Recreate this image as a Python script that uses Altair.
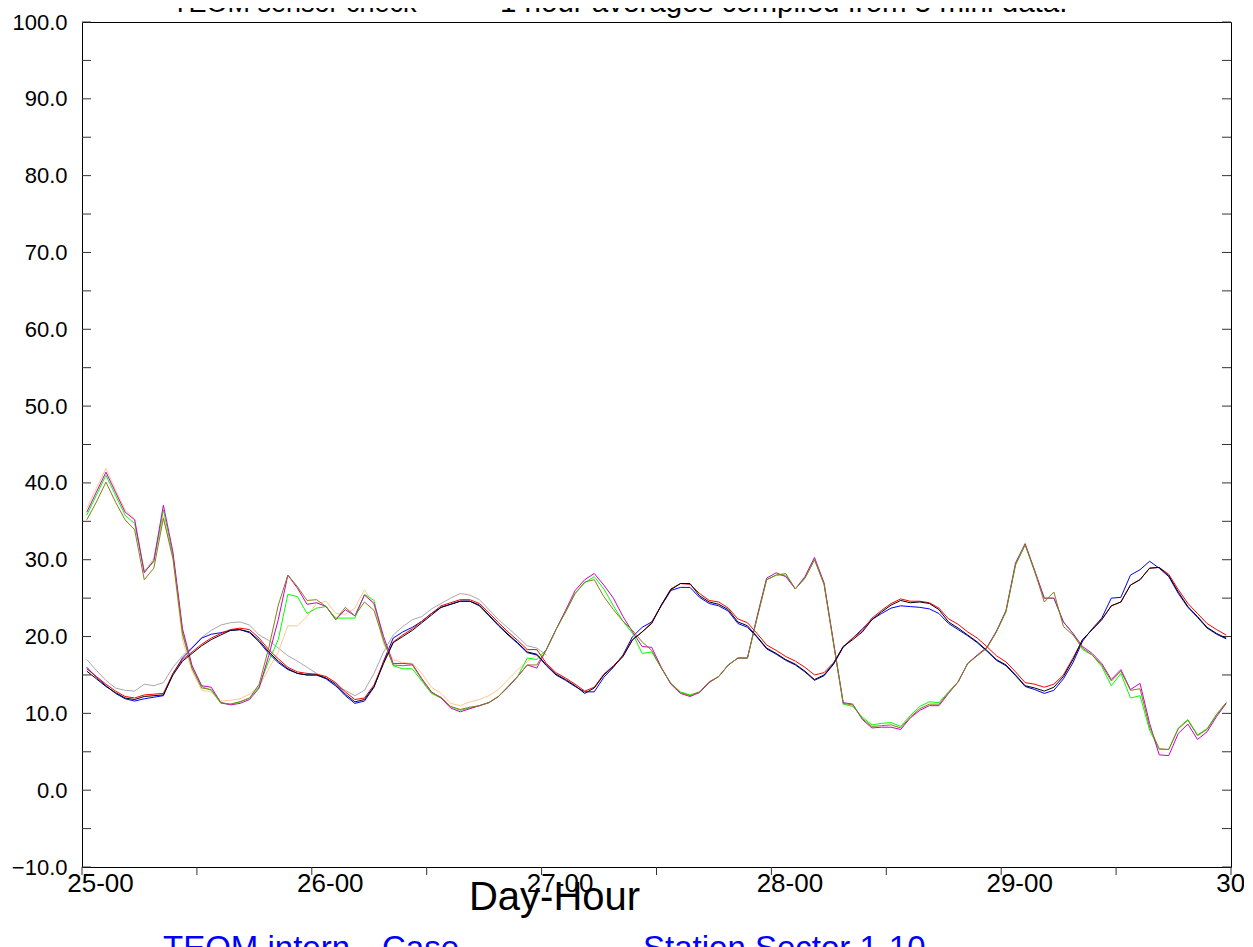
import altair as alt
import pandas as pd

# ---------------- data (hourly averages, index 0 = 25-00) ----------------
black = [15.5,14.5,13.5,12.7,12.0,11.8,12.2,12.3,12.4,15.0,
         16.8,17.8,18.8,19.6,20.2,20.8,20.9,20.6,19.5,18.0,
         16.8,15.8,15.2,15.0,15.0,14.6,13.8,12.5,11.5,11.8,
         13.5,16.5,19.2,20.0,20.8,21.8,22.8,23.8,24.2,24.6,
         24.6,24.1,22.8,21.5,20.3,19.2,18.0,17.7,16.3,15.1,
         14.4,13.6,12.6,13.3,15.0,16.1,17.4,19.6,20.6,21.7,
         24.1,26.1,26.9,26.9,25.3,24.5,24.2,23.5,21.9,21.4,
         20.0,18.5,17.8,17.0,16.4,15.5,14.4,15.0,16.5,18.7,
         19.6,20.6,22.2,23.2,24.1,24.7,24.4,24.5,24.3,23.5,
         21.9,21.1,20.2,19.3,18.2,17.0,16.3,15.0,13.6,13.3,
         12.9,13.4,14.8,17.0,19.6,20.9,22.2,24.0,24.5,26.7,
         27.4,28.9,29.0,27.9,25.8,23.9,22.6,21.2,20.4,19.8]
red = [15.8,14.8,13.8,12.9,12.2,12.0,12.4,12.5,12.6,15.2,
       17.0,18.0,19.0,19.8,20.4,20.9,21.1,20.9,19.8,18.3,
       17.1,16.0,15.4,15.2,15.1,14.8,14.0,12.8,11.8,12.0,
       13.7,16.7,19.3,20.2,21.0,22.0,23.0,24.0,24.4,24.8,
       24.8,24.3,23.1,21.8,20.6,19.5,18.3,18.3,16.5,15.3,
       14.6,13.8,12.9,13.4,15.1,16.2,17.5,19.6,20.6,21.8,
       24.1,26.2,26.9,26.8,25.6,24.7,24.5,23.7,22.3,21.8,
       20.4,18.9,18.2,17.4,16.8,16.0,15.0,15.3,16.6,18.7,
       19.8,20.8,22.4,23.4,24.3,24.9,24.6,24.6,24.4,23.7,
       22.3,21.6,20.6,19.8,18.7,17.5,16.7,15.4,14.0,13.8,
       13.4,13.8,15.0,17.2,19.6,20.9,22.2,24.0,24.5,26.7,
       27.4,28.9,29.0,28.1,26.1,24.3,23.0,21.7,20.9,20.2]
blue = [16.0,14.7,13.6,12.6,11.9,11.6,11.9,12.1,12.3,15.2,
        17.2,18.5,19.8,20.3,20.5,20.8,20.9,20.5,19.3,17.8,
        16.6,15.7,15.2,15.0,15.0,14.5,13.6,12.3,11.3,11.6,
        13.4,16.8,19.8,20.6,21.2,22.0,23.0,23.8,24.2,24.6,
        24.6,24.0,22.7,21.4,20.2,19.1,17.9,17.6,16.2,15.0,
        14.3,13.5,12.8,12.8,14.7,16.0,17.6,20.0,21.2,21.9,
        24.0,26.0,26.4,26.4,25.1,24.3,24.0,23.3,21.7,21.2,
        19.9,18.4,17.7,16.9,16.3,15.4,14.3,14.9,16.4,18.6,
        19.8,21.0,22.2,23.0,23.7,24.0,23.9,23.8,23.6,23.0,
        21.7,20.9,20.1,19.2,18.1,16.9,16.2,14.9,13.5,13.1,
        12.6,13.0,14.5,16.6,19.4,21.0,22.4,25.0,25.1,28.0,
        28.7,29.8,28.9,27.8,25.6,23.8,22.5,21.1,20.3,19.7]
gray = [17.0,15.6,14.3,13.3,13.0,12.9,13.8,13.6,14.0,16.0,
        17.5,18.6,19.9,20.8,21.5,21.8,21.9,21.5,20.2,19.5,
        18.5,17.5,16.8,16.0,15.2,14.5,13.5,13.0,12.3,13.0,
        15.2,18.0,20.2,21.3,22.2,22.6,23.6,24.3,25.0,25.6,
        25.4,24.8,23.5,22.2,21.1,20.0,18.8,18.5,17.6]
green = [35.8,38.4,41.0,38.4,35.8,34.7,28.5,29.7,36.5,30.6,
         20.5,16.0,13.5,13.0,11.3,11.2,11.5,12.0,13.5,16.8,
         19.6,25.5,25.2,23.0,23.7,23.9,22.4,22.4,22.4,25.5,
         24.7,19.5,16.2,15.8,15.8,14.2,12.6,12.0,10.9,10.4,
         10.7,11.0,11.4,12.2,13.5,14.8,17.2,17.0,18.3,20.9,
         23.2,25.6,27.0,27.8,26.2,24.0,22.0,20.4,17.8,18.0,
         15.9,13.9,12.8,12.4,12.8,14.1,14.8,16.3,17.2,17.2,
         22.4,27.4,28.0,28.0,26.2,27.6,30.0,26.8,19.0,11.2,
         10.9,9.5,8.5,8.7,8.8,8.3,9.7,10.9,11.5,11.4,
         12.8,14.1,16.5,17.5,18.5,20.6,23.2,29.3,31.9,28.4,
         25.0,25.0,21.9,20.4,18.3,17.6,16.1,13.6,15.2,12.0,
         12.3,7.8,5.3,5.3,8.1,9.2,7.2,8.0,9.9,11.4]
magenta = [36.2,38.8,41.4,38.8,36.2,35.2,28.3,29.9,37.1,31.0,
           21.0,16.2,13.6,13.4,11.4,11.1,11.3,11.8,13.3,17.5,
           22.2,28.0,26.3,24.2,24.4,23.9,22.2,23.5,22.7,25.4,
           24.3,20.0,16.5,16.5,16.4,14.5,12.8,12.0,10.7,10.2,
           10.6,11.0,11.4,12.2,13.4,14.8,16.3,15.9,18.3,20.9,
           23.4,26.0,27.4,28.2,26.7,25.0,22.6,20.6,18.7,18.6,
           16.0,13.8,12.6,12.2,12.7,14.0,14.8,16.3,17.2,17.2,
           22.6,27.6,28.3,27.8,26.2,27.8,30.3,27.0,19.2,11.4,
           11.2,9.2,8.1,8.2,8.2,7.9,9.4,10.4,11.0,11.0,
           12.6,14.1,16.5,17.6,18.6,20.7,23.4,29.6,32.1,28.6,
           25.0,25.0,21.9,20.4,18.7,17.8,16.5,14.4,15.7,13.1,
           13.9,8.7,4.6,4.5,7.4,8.6,6.6,7.6,9.6,11.3]
olive = [35.2,37.5,40.1,37.5,35.2,33.9,27.4,28.9,35.4,30.2,
         20.3,15.8,13.3,13.1,11.4,11.2,11.5,12.0,13.8,18.5,
         24.1,28.0,26.5,24.7,24.8,23.9,22.2,23.8,22.7,24.5,
         23.4,19.5,16.3,16.2,16.3,14.4,12.7,12.1,10.9,10.5,
         10.8,11.0,11.4,12.2,13.5,14.8,16.3,16.3,18.3,20.9,
         23.2,25.6,27.1,27.4,25.2,23.5,22.0,20.8,19.3,18.2,
         15.9,13.9,12.7,12.3,12.8,14.1,14.8,16.3,17.2,17.2,
         22.4,27.4,28.0,28.2,26.2,27.6,30.0,26.8,19.0,11.3,
         11.1,9.3,8.3,8.4,8.5,8.1,9.5,10.6,11.2,11.2,
         12.7,14.1,16.5,17.5,18.5,20.6,23.3,29.4,32.0,28.5,
         24.5,25.8,21.3,20.2,18.5,17.6,16.3,14.2,15.5,13.0,
         13.2,8.2,5.4,5.3,8.0,9.1,7.1,7.9,9.8,11.4]
peach = [36.7,39.3,41.9,39.1,36.5,35.3,28.4,30.2,35.6,30.0,
         19.5,15.5,13.0,12.8,11.6,11.7,11.9,12.5,13.5,15.8,
         18.0,21.4,21.4,22.6,24.3,24.6,23.0,22.9,23.7,26.1,
         24.1,19.0,17.0,16.6,16.5,15.2,13.4,12.6,11.3,11.0,
         11.5,11.8,12.3,13.1,14.4,15.7,16.7,17.6]

y_ticks = [-10, -5, 0, 5, 10, 15, 20, 25, 30, 35, 40, 45, 50,
           55, 60, 65, 70, 75, 80, 85, 90, 95, 100]
y_labels = [-10, 0, 10, 20, 30, 40, 50, 60, 70, 80, 90, 100]
x_ticks = [0, 12, 24, 36, 48, 60, 72, 84, 96, 108, 120]
x_labels = [0, 24, 48, 72, 96, 120]

title_left = "TEOM sensor check"
title_right = "1 hour averages compiled from 5 mini data."
foot_left = "TEOM intern"
foot_mid = "Case"
foot_right = "Station Sector 1-10"

# ---------------- chart ----------------
W, H = 1149, 845
FONT = "Liberation Sans"
xs = alt.Scale(domain=[0, 120], nice=False, zero=False)
ys = alt.Scale(domain=[-10, 100], nice=False, zero=False)

series = [
    ("gray", gray, "#A9A9A9"),
    ("peach", peach, "#FFC890"),
    ("blue", blue, "#0000FF"),
    ("red", red, "#FF0000"),
    ("green", green, "#00FF00"),
    ("magenta", magenta, "#CC00CC"),
    ("olive", olive, "#8B7D1A"),
    ("black", black, "#000000"),
]

x_axis = alt.Axis(values=x_labels, labelExpr="(25 + datum.value/24) + '-00'",
                  labelFont=FONT, labelFontSize=26, labelColor="black",
                  labelBaseline="alphabetic", labelPadding=24, labelOffset=18,
                  labelFlush=False, labelOverlap=False, labelBound=False,
                  ticks=False, tickSize=0, domain=False, grid=False,
                  title="Day-Hour", titleFont=FONT, titleFontSize=40,
                  titleFontWeight="normal", titleColor="black",
                  titleX=472, titleY=42, titleBaseline="alphabetic",
                  titleAlign="center")
y_axis = alt.Axis(values=y_labels, format=".1f", labelFont=FONT,
                  labelFontSize=22, labelColor="black", labelPadding=15,
                  ticks=False, tickSize=0, domain=False, grid=False,
                  labelFlush=False, labelOverlap=False, title=None)

ytick_df = pd.DataFrame({"v": y_ticks})
xtick_df = pd.DataFrame({"t": x_ticks})

left_ticks = alt.Chart(ytick_df).mark_rule(color="#333333", strokeWidth=1).encode(
    y=alt.Y("v:Q", scale=ys, axis=y_axis),
    x=alt.value(0), x2=alt.value(9))
right_ticks = alt.Chart(ytick_df).mark_rule(color="#333333", strokeWidth=1).encode(
    y=alt.Y("v:Q", scale=ys, axis=y_axis),
    x=alt.value(W - 9), x2=alt.value(W))
bottom_ticks = alt.Chart(xtick_df).mark_rule(color="#333333", strokeWidth=1).encode(
    x=alt.X("t:Q", scale=xs, axis=x_axis),
    y=alt.value(H), y2=alt.value(H + 8))

layers = [left_ticks, right_ticks, bottom_ticks]
for name, vals, col in series:
    df = pd.DataFrame({"h": [i + 0.5 for i in range(len(vals))], "v": vals})
    layers.append(alt.Chart(df).mark_line(color=col, strokeWidth=1).encode(
        x=alt.X("h:Q", scale=xs, axis=x_axis),
        y=alt.Y("v:Q", scale=ys, axis=y_axis)))

def txt(s, x, y, size, color="black"):
    return alt.Chart(pd.DataFrame({"s": [s]})).mark_text(
        align="left", baseline="alphabetic", font=FONT, fontSize=size,
        color=color).encode(text="s:N", x=alt.value(x), y=alt.value(y))

layers += [
    txt(title_left, 90, -10, 27),
    txt(title_right, 418, -10, 29.5),
    txt(foot_left, 81, 937, 33, "#0000FF"),
    txt(foot_mid, 300, 937, 33, "#0000FF"),
    txt(foot_right, 561, 937, 33, "#0000FF"),
]

chart = alt.layer(*layers).properties(
    width=W, height=H, autosize="none", background="white",
    padding={"left": 74, "top": 14, "right": 13, "bottom": 80}
).configure_view(stroke="black", strokeWidth=1)

chart.save("out.html", embed_options={"renderer": "svg", "actions": False})
